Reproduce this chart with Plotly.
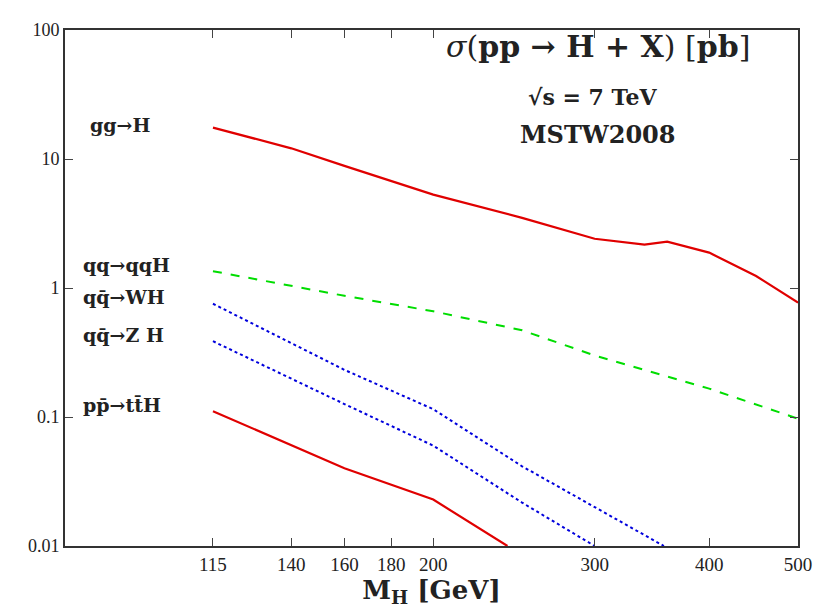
import plotly.graph_objects as go
import numpy as np

mh_gg = [115, 140, 160, 180, 200, 250, 300, 340, 360, 400, 450, 500]
xs_gg = [17.5, 12.1, 8.85, 6.8, 5.3, 3.5, 2.41, 2.17, 2.29, 1.88, 1.24, 0.77]
mh_vbf = [115, 160, 200, 250, 300, 400, 500]
xs_vbf = [1.35, 0.87, 0.66, 0.47, 0.30, 0.166, 0.097]
mh_wh = [115, 160, 200, 250, 357]
xs_wh = [0.755, 0.232, 0.115, 0.0415, 0.010]
mh_zh = [115, 160, 200, 250, 300]
xs_zh = [0.387, 0.126, 0.060, 0.0217, 0.010]
mh_tth = [115, 160, 200, 241]
xs_tth = [0.111, 0.040, 0.0229, 0.010]

xticks = [115, 140, 160, 180, 200, 300, 400, 500]
yticks = [0.01, 0.1, 1, 10, 100]
ytext = ["0.01", "0.1", "1", "10", "100"]

F = "Liberation Serif"
FB = "DejaVu Serif"
fig = go.Figure()
fig.add_trace(go.Scatter(x=mh_gg, y=xs_gg, mode="lines", line=dict(color="#e00000", width=2.2)))
fig.add_trace(go.Scatter(x=mh_vbf, y=xs_vbf, mode="lines", line=dict(color="#00dd00", width=2, dash="dash")))
fig.add_trace(go.Scatter(x=mh_wh, y=xs_wh, mode="lines", line=dict(color="#0000dd", width=2, dash="dot")))
fig.add_trace(go.Scatter(x=mh_zh, y=xs_zh, mode="lines", line=dict(color="#0000dd", width=2, dash="dot")))
fig.add_trace(go.Scatter(x=mh_tth, y=xs_tth, mode="lines", line=dict(color="#e00000", width=2.2)))

labels = [("gg→H", 18.5, 84), ("qq→qqH", 1.5, 82.5), ("qq̄→WH", 0.85, 82.5), ("qq̄→Z H", 0.43, 82.5), ("pp̄→tt̄H", 0.125, 82.5)]
for t, yv, xv in labels:
    fig.add_annotation(x=np.log10(xv), y=np.log10(yv), text="<b>"+t+"</b>",
                       showarrow=False, xanchor="left", font=dict(family=FB, size=19, color="#222"))
fig.add_annotation(x=0.937, y=1.005, xref="paper", yref="paper", text="<i>σ</i>(<b>pp → H + X</b>) [<b>pb</b>]",
                   showarrow=False, xanchor="right", yanchor="top", font=dict(family=FB, size=30, color="#222"))
fig.add_annotation(x=0.72, y=0.9, xref="paper", yref="paper", text="<b>√s = 7 TeV</b>",
                   showarrow=False, xanchor="center", yanchor="top", font=dict(family=FB, size=22, color="#222"))
fig.add_annotation(x=0.727, y=0.83, xref="paper", yref="paper", text="<b>MSTW2008</b>",
                   showarrow=False, xanchor="center", yanchor="top", font=dict(family=FB, size=24, color="#222"))

fig.update_layout(width=824, height=606, margin=dict(l=57, r=34, t=12, b=68),
                  plot_bgcolor="white", paper_bgcolor="white", showlegend=False,
                  font=dict(family=F, size=18, color="#222"))
fig.update_xaxes(type="log", range=[np.log10(79.3), np.log10(500)], tickvals=xticks,
                 ticktext=[str(v) for v in xticks], ticks="inside", ticklen=8, mirror="ticks",
                 showline=True, linecolor="#333", linewidth=2, showgrid=False, tickfont=dict(size=19),
                 title=dict(text="<b>M<sub>H</sub> [GeV]</b>", font=dict(family=FB, size=26), standoff=0))
fig.update_yaxes(type="log", range=[-2, 2], tickvals=yticks, ticktext=ytext, ticks="inside", ticklen=8,
                 mirror="ticks", showline=True, linecolor="#333", linewidth=2, showgrid=False)
fig.write_html("out.html")
